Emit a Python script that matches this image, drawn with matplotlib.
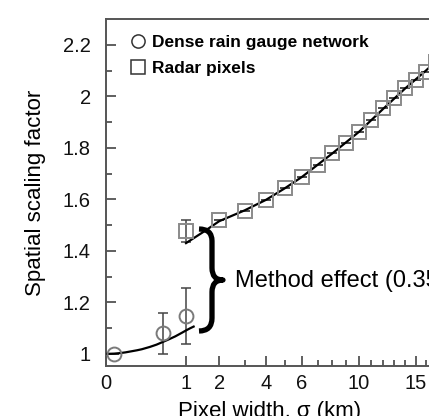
import numpy as np
import matplotlib.pyplot as plt
from matplotlib.lines import Line2D
from matplotlib.path import Path
from matplotlib.patches import PathPatch

plt.rcParams['font.family'] = ['Liberation Sans', 'DejaVu Sans']

# Dense rain gauge network (circles)
gauge_sigma = [0.01, 0.5, 1.0]
gauge_sf = [1.0, 1.08, 1.148]
gauge_err = [0.0, 0.08, 0.108]

# Radar pixels (squares)
radar_sigma = [1, 2, 3, 4, 5, 6, 7, 8, 9, 10, 11, 12, 13, 14, 15, 16, 17]
radar_sf = [1.478, 1.52, 1.555, 1.597, 1.645, 1.687, 1.734, 1.78, 1.82,
            1.862, 1.909, 1.955, 1.994, 2.033, 2.064, 2.095, 2.134]
radar_err = [0.043] + [0.0] * 16

# fitted curves
gauge_fit_sigma = [0, 0.01, 0.03, 0.06, 0.1, 0.15, 0.2, 0.3, 0.4, 0.5,
                   0.6, 0.75, 0.9, 1.0, 1.1, 1.2]
gauge_fit_sf = [1.0, 1.001, 1.003, 1.006, 1.01, 1.014, 1.018, 1.027, 1.036,
                1.046, 1.055, 1.068, 1.082, 1.091, 1.099, 1.106]
radar_fit_sigma = [1, 1.5, 2, 3, 4, 5, 6, 8, 10, 12, 14, 16, 18, 20]
radar_fit_sf = [1.43, 1.475, 1.515, 1.557, 1.598, 1.643, 1.687, 1.778,
                1.862, 1.951, 2.031, 2.10, 2.17, 2.24]

xticks = [0, 1, 2, 4, 6, 10, 15]
xminor = [3, 5, 7, 8, 9, 11, 12, 13, 14, 16, 17, 18, 19, 20]

W, H = 429, 416
fig = plt.figure(figsize=(W / 100, H / 100), dpi=100)
# axes run past the right edge of the figure (the original is cropped)
ax = fig.add_axes([106 / W, 50 / H, 400 / W, 347 / H])
ax.set_xscale('function', functions=(lambda x: np.sqrt(np.clip(x, 0, None)),
                                     lambda x: np.square(x)))
ax.set_xlim(0, 25)
ax.set_ylim(0.953, 2.3)

ax.plot(gauge_fit_sigma, gauge_fit_sf, color='black', lw=1.6, zorder=3)
ax.plot(radar_fit_sigma, radar_fit_sf, color='black', lw=1.6, zorder=3)

ax.errorbar(gauge_sigma, gauge_sf, yerr=gauge_err, fmt='none',
            ecolor='#444444', elinewidth=1.1, capsize=3.5, capthick=1.1)
ax.errorbar(radar_sigma, radar_sf, yerr=radar_err, fmt='none',
            ecolor='#444444', elinewidth=1.1, capsize=3.5, capthick=1.1)
ax.plot(gauge_sigma, gauge_sf, 'o', ms=10, mfc='none', mec='#7a7a7a',
        mew=1.4, zorder=4)
ax.plot(radar_sigma, radar_sf, 's', ms=10, mfc='none', mec='#8a8a8a',
        mew=1.4, zorder=4)

ax.set_xticks(xticks)
ax.set_xticklabels([str(t) for t in xticks])
ax.set_xticks(xminor, minor=True)
ax.set_yticks([1, 1.2, 1.4, 1.6, 1.8, 2.0, 2.2])
ax.set_yticklabels(['1', '1.2', '1.4', '1.6', '1.8', '2', '2.2'])
ax.set_yticks(np.arange(1.1, 2.25, 0.2), minor=True)
ax.tick_params(which='both', direction='in', color='#444444', width=1.2,
               labelsize=14.5, labelcolor='#111111')
ax.tick_params(which='major', length=7)
ax.tick_params(which='minor', length=4)
ax.tick_params(axis='y', pad=11)
ax.tick_params(axis='x', pad=6)
for s in ax.spines.values():
    s.set_color('#555555')
    s.set_linewidth(1.4)

ax.set_ylabel('Spatial scaling factor', fontsize=16, labelpad=12)
fig.text(270 / W, 1 - 401 / H, 'Pixel width, \u03c3 (km)', fontsize=16,
         ha='center', va='top')

handles = [Line2D([], [], ls='none', marker='o', ms=9.5, mfc='none',
                  mec='#333333', mew=1.1),
           Line2D([], [], ls='none', marker='s', ms=9.5, mfc='none',
                  mec='#333333', mew=1.1)]
fig.legend(handles, ['Dense rain gauge network', 'Radar pixels'],
           loc='upper left', bbox_to_anchor=(129 / W, 1 - 35 / H),
           frameon=False, handlelength=1.0, handletextpad=0.35,
           borderpad=0, borderaxespad=0, labelspacing=0.62,
           prop={'weight': 'bold', 'size': 12.5})


# curly brace marking the gap between the two methods (pixel coords)
def px(x, y):
    return (x / W, 1 - y / H)


verts = [px(199, 229), px(212, 229), px(212, 241),
         px(212, 268),
         px(212, 280), px(223, 280),
         px(212, 280), px(212, 292),
         px(212, 318),
         px(212, 331), px(199, 331)]
codes = [Path.MOVETO, Path.CURVE3, Path.CURVE3,
         Path.LINETO,
         Path.CURVE3, Path.CURVE3,
         Path.CURVE3, Path.CURVE3,
         Path.LINETO,
         Path.CURVE3, Path.CURVE3]
brace = PathPatch(Path(verts, codes), transform=fig.transFigure,
                  fill=False, lw=3.8, color='black', capstyle='butt',
                  joinstyle='round')
fig.add_artist(brace)
fig.text(235 / W, 1 - 281 / H, 'Method effect (0.35)', fontsize=17,
         ha='left', va='center')

fig.savefig('out.png', dpi=100)
